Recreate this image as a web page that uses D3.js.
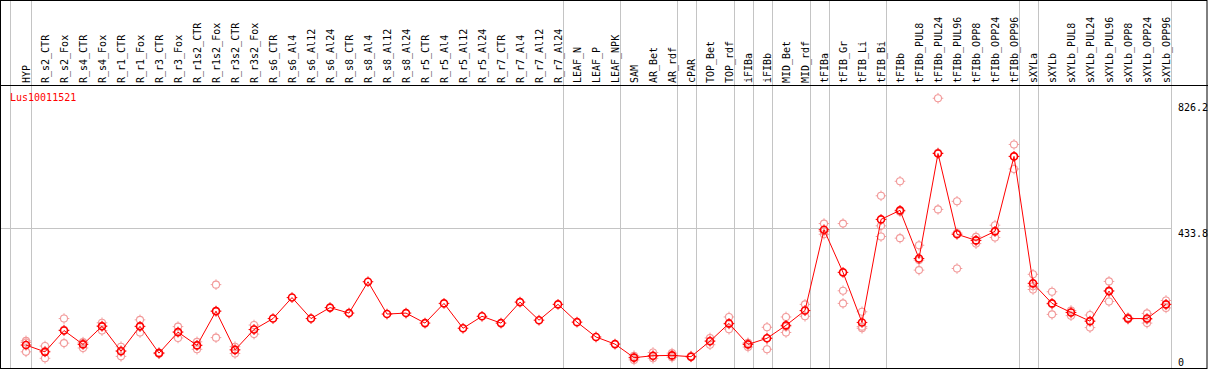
<!DOCTYPE html>
<html>
<head>
<meta charset="utf-8">
<script src="https://cdn.jsdelivr.net/npm/d3@7/dist/d3.min.js"></script>
<style>
  html, body { margin: 0; padding: 0; background: #fff; }
  svg { display: block; }
  text { font-family: "DejaVu Sans Mono", "Liberation Mono", monospace; font-size: 10px; }
</style>
</head>
<body>
<svg id="chart" width="1209" height="370"></svg>
<script>
const geneName = "Lus10011521";

const categories = [
  "HYP","R_s2_CTR","R_s2_Fox","R_s4_CTR","R_s4_Fox","R_r1_CTR","R_r1_Fox","R_r3_CTR","R_r3_Fox",
  "R_r1s2_CTR","R_r1s2_Fox","R_r3s2_CTR","R_r3s2_Fox","R_s6_CTR","R_s6_Al4","R_s6_Al12","R_s6_Al24",
  "R_s8_CTR","R_s8_Al4","R_s8_Al12","R_s8_Al24","R_r5_CTR","R_r5_Al4","R_r5_Al12","R_r5_Al24",
  "R_r7_CTR","R_r7_Al4","R_r7_Al12","R_r7_Al24","LEAF_N","LEAF_P","LEAF_NPK","SAM","AR_Bet","AR_rdf",
  "cPAR","TOP_Bet","TOP_rdf","iFIBa","iFIBb","MID_Bet","MID_rdf","tFIBa","tFIB_Gr","tFIB_Li","tFIB_Bi",
  "tFIBb","tFIBb_PUL8","tFIBb_PUL24","tFIBb_PUL96","tFIBb_OPP8","tFIBb_OPP24","tFIBb_OPP96",
  "sXYLa","sXYLb","sXYLb_PUL8","sXYLb_PUL24","sXYLb_PUL96","sXYLb_OPP8","sXYLb_OPP24","sXYLb_OPP96"
];

const meanValues = [
  71, 50, 116, 73, 129, 52, 129, 46, 111,
  70, 176, 56, 119, 153, 218, 153, 187,
  170, 267, 167, 170, 139, 200, 123, 160,
  139, 204, 148, 197, 142, 96, 74, 32, 38, 39,
  35, 83, 138, 73, 92, 132, 178, 428, 296, 141, 460,
  488, 339, 664, 414, 395, 423, 655,
  262, 200, 172, 145, 238, 153, 153, 197
];

const replicateValues = [
  [84, 79, 50], [68, 52, 30], [153, 118, 77], [80, 77, 62], [140, 131, 116], [66, 54, 36], [149, 128, 110], [48, 46, 44], [128, 112, 93],
  [81, 71, 58], [258, 176, 94], [66, 57, 45], [133, 119, 105], [], [], [], [],
  [], [], [], [], [], [], [], [],
  [], [], [], [], [], [], [], [38, 33, 25], [48, 36, 30], [46, 38, 33],
  [37, 34], [93, 84, 72], [158, 136, 120], [78, 76, 65], [126, 92, 58], [158, 128, 110], [197, 177, 160], [447, 423, 414], [447, 239, 200], [174, 128, 123], [533, 440, 407],
  [578, 484, 402], [380, 334, 303], [835, 666, 491], [516, 418, 308], [406, 395, 385], [442, 423, 404], [692, 655, 616],
  [290, 253, 243], [236, 198, 166], [178, 172, 162], [164, 145, 125], [268, 240, 206], [156, 151], [169, 150, 139], [209, 196, 186]
];

// indices after which a gray group separator is drawn
const groupEnds = [0, 28, 31, 34, 35, 37, 38, 39, 41, 42, 45, 52, 53, 60];

const yTickValues = [0, 433.8, 826.2];
const yTickLabels = ["0", "433.8", "826.2"];
const gridValues = [433.8];

const W = 1209, H = 370;
const headerBottom = 85, plotBottom = 368, frameRight = 1207;

const svg = d3.select("#chart");

const x = d3.scalePoint().domain(categories).range([26, 1166]);
const y = d3.scaleLinear().domain([0, 876]).range([plotBottom, headerBottom]);

const gray = "#c4c4c4";
const red = "#ff0000";
const pink = "#f29a9a";

// vertical group separators (full height)
const sepX = [x(categories[0]) - 16].concat(groupEnds.map(i => x(categories[i]) + 4.5));
svg.append("g").selectAll("line").data(sepX).join("line")
  .attr("x1", d => Math.round(d) + 0.5).attr("x2", d => Math.round(d) + 0.5)
  .attr("y1", 0).attr("y2", plotBottom)
  .attr("stroke", gray).attr("stroke-width", 1);

// horizontal gridlines
svg.append("g").selectAll("line").data(gridValues).join("line")
  .attr("x1", 0).attr("x2", Math.round(sepX[sepX.length - 1]) + 0.5)
  .attr("y1", d => Math.round(y(d)) + 0.5).attr("y2", d => Math.round(y(d)) + 0.5)
  .attr("stroke", gray).attr("stroke-width", 1);

// frame + header separator
svg.append("rect").attr("x", 0.5).attr("y", 0.5)
  .attr("width", frameRight - 0.5).attr("height", plotBottom)
  .attr("fill", "none").attr("stroke", "#000").attr("stroke-width", 1);
svg.append("line").attr("x1", 0).attr("x2", frameRight + 1)
  .attr("y1", headerBottom + 0.5).attr("y2", headerBottom + 0.5)
  .attr("stroke", "#000").attr("stroke-width", 1);

// header labels (rotated)
svg.append("g").selectAll("text").data(categories).join("text")
  .attr("transform", d => `translate(${Math.round(x(d)) + 4},${headerBottom - 2}) rotate(-90)`)
  .attr("fill", "#000")
  .text(d => d);

// title
svg.append("text").attr("x", 10).attr("y", 101).attr("fill", red).text(geneName);

// y labels
svg.append("g").selectAll("text").data(yTickValues).join("text")
  .attr("x", 1178)
  .attr("y", (d, i) => d === 0 ? plotBottom - 2.5 : y(d) + 9.5)
  .attr("fill", "#000")
  .text((d, i) => yTickLabels[i]);

// marker drawing
function marker(g, color, sw) {
  const r = 3.5;
  g.append("circle").attr("r", r).attr("fill", "none").attr("stroke", color).attr("stroke-width", sw);
  [[0, -1], [0, 1], [-1, 0], [1, 0]].forEach(([dx, dy]) => {
    g.append("line")
      .attr("x1", dx * r).attr("y1", dy * r)
      .attr("x2", dx * (r + 1.8)).attr("y2", dy * (r + 1.8))
      .attr("stroke", color).attr("stroke-width", 1);
  });
}

// replicate points
const reps = [];
replicateValues.forEach((arr, i) => arr.forEach(v => reps.push({ c: categories[i], v })));
svg.append("g").selectAll("g").data(reps).join("g")
  .attr("transform", d => `translate(${x(d.c)},${y(d.v)})`)
  .each(function () { marker(d3.select(this), pink, 1.1); });

// mean line
const line = d3.line().x((d, i) => x(categories[i])).y(d => y(d));
svg.append("path").datum(meanValues)
  .attr("d", line).attr("fill", "none").attr("stroke", red).attr("stroke-width", 1);

// mean points
svg.append("g").selectAll("g").data(meanValues).join("g")
  .attr("transform", (d, i) => `translate(${x(categories[i])},${y(d)})`)
  .each(function () { marker(d3.select(this), red, 1.6); });
</script>
</body>
</html>
